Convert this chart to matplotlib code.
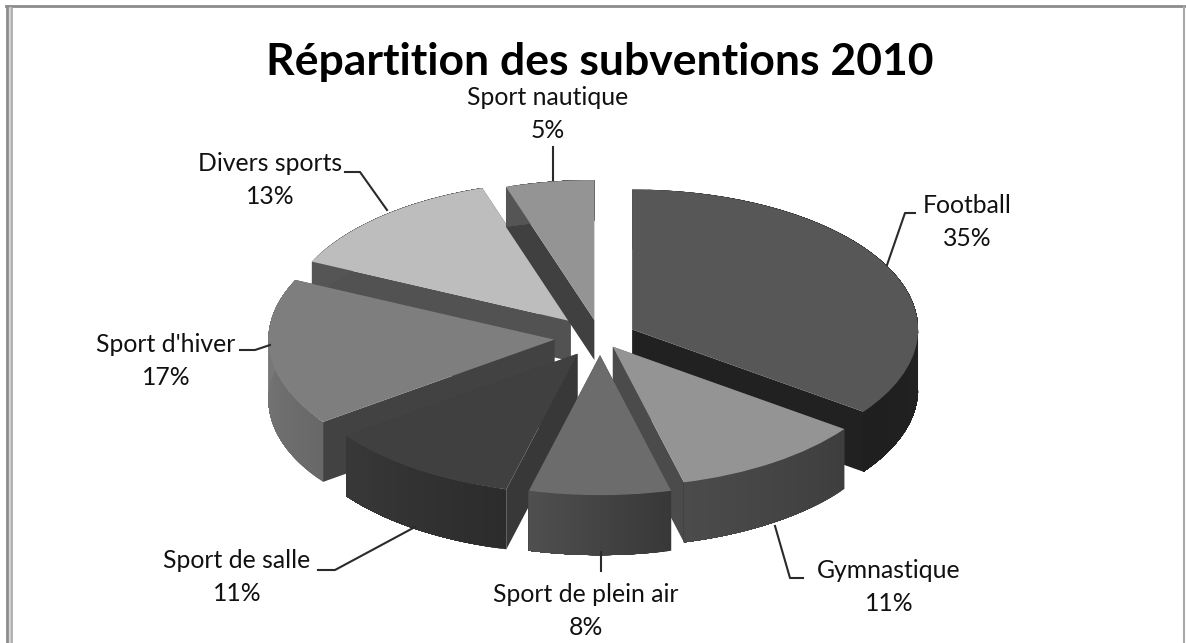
import numpy as np
import matplotlib
matplotlib.use("Agg")
import matplotlib.pyplot as plt
from matplotlib.colors import to_rgb, to_hex

TITLE = "Répartition des subventions 2010"
categories = ["Football", "Gymnastique", "Sport de plein air", "Sport de salle",
              "Sport d'hiver", "Divers sports", "Sport nautique"]
values = [35, 11, 8, 11, 17, 13, 5]
explode = [0.126, 0.08, 0.126, 0.14, 0.16, 0.155, 0.126]
top_colors = ["#575757", "#949494", "#6c6c6c", "#404040", "#7e7e7e", "#bdbdbd", "#949494"]
cut_colors = ["#212121", "#4b4b4b", "#444444", "#383838", "#424242", "#525252", "#404040"]
outer_colors = [("#282828", "#1f1f1f"), ("#3e3e3e", "#4b4b4b"), ("#383838", "#4f4f4f"),
                ("#2c2c2c", "#383838"), ("#686868", "#7e7e7e"), ("#555555", "#555555"),
                ("#555555", "#555555")]
depths = [60, 60, 60, 60, 60, 40, 40]
draw_order = [5, 6, 0, 4, 1, 3, 2]

W, H = 1186, 643
CX, CY, RX, RY = 600.0, 337.5, 286.0, 140.0


def px(x, y):
    """pixel position in the reference -> data units of the pie axes"""
    return (x - CX) / RX, (CY - y) / RY


fig = plt.figure(figsize=(W / 100, H / 100), dpi=100, facecolor="white")
ax = fig.add_axes([0, 0, 1, 1])
wedges, _ = ax.pie(values, explode=explode, startangle=90, counterclock=False,
                   colors=top_colors, wedgeprops=dict(linewidth=0))
ax.set_aspect("auto")
ax.set_xlim(px(0, 0)[0], px(W, 0)[0])
ax.set_ylim(px(0, H)[1], px(0, 0)[1])

fracs = np.array(values) / sum(values)
ends = np.cumsum(fracs) * 2 * np.pi
starts = ends - fracs * 2 * np.pi

for rank, i in enumerate(draw_order):
    z = 10 + rank * 3
    d = depths[i] / RY
    mid = (starts[i] + ends[i]) / 2
    ox, oy = explode[i] * np.sin(mid), explode[i] * np.cos(mid)
    # radial cut walls
    for a in (starts[i], ends[i]):
        ex, ey = ox + np.sin(a), oy + np.cos(a)
        ax.fill([ox, ex, ex, ox], [oy, ey, ey - d, oy - d], facecolor=cut_colors[i],
                edgecolor="none", zorder=z)
    # outer curved wall, shaded along the arc; each band runs to the arc's end,
    # so the next band overpaints it and no seams show
    th = np.linspace(starts[i], ends[i], 41)
    c0, c1 = np.array(to_rgb(outer_colors[i][0])), np.array(to_rgb(outer_colors[i][1]))
    for k in range(len(th) - 1):
        t = k / (len(th) - 2)
        xs = ox + np.sin(th[k:])
        ys = oy + np.cos(th[k:])
        ax.fill(np.r_[xs, xs[::-1]], np.r_[ys, (ys - d)[::-1]],
                facecolor=to_hex(c0 + (c1 - c0) * t), edgecolor="none", zorder=z + 1)
    wedges[i].set_zorder(z + 2)

# leader lines
leaders = [
    [(915, 213), (905, 213), (887, 265)],
    [(803, 578), (790, 578), (775, 526)],
    [(600.5, 552), (600.5, 571)],
    [(318, 570), (335, 570), (415, 527)],
    [(240, 350), (255, 350), (270, 345)],
    [(345, 172), (360, 172), (387, 210)],
    [(553, 147), (553, 180)],
]
for pts in leaders:
    xy = np.array([px(*p) for p in pts])
    ax.plot(xy[:, 0], xy[:, 1], color="#2a2a2a", lw=1.5, zorder=40, clip_on=False)

# data labels
label_pos = [(967, 222), (889, 587), (586, 611), (237, 577), (166, 361), (270, 180), (548, 114)]
pct = [f"{v}%" for v in values]
for name, p, (x, y) in zip(categories, pct, label_pos):
    ax.text(*px(x, y), f"{name}\n{p}", ha="center", va="center", family="Lato",
            fontsize=17.8, color="#111111", linespacing=1.55, zorder=50)

ax.text(*px(600, 62), TITLE, ha="center", va="center", family="Lato",
        fontweight="bold", fontsize=32, color="black", zorder=50)

# chart frame as captured
ax.plot(*zip(px(6, 6), px(W, 6)), color="#8c8c8c", lw=2, zorder=60, clip_on=False)
ax.plot(*zip(px(7, 6), px(7, H)), color="#8c8c8c", lw=2, zorder=60, clip_on=False)
ax.plot(*zip(px(9.5, 8), px(9.5, H)), color="#cfcfcf", lw=2, zorder=60, clip_on=False)
ax.plot(*zip(px(12, 8), px(12, H)), color="#a8a8a8", lw=1.2, zorder=60, clip_on=False)
ax.plot(*zip(px(1184, 7), px(1184, H)), color="#a8a8a8", lw=1.5, zorder=60, clip_on=False)

fig.savefig("out.png", dpi=100, facecolor="white")
